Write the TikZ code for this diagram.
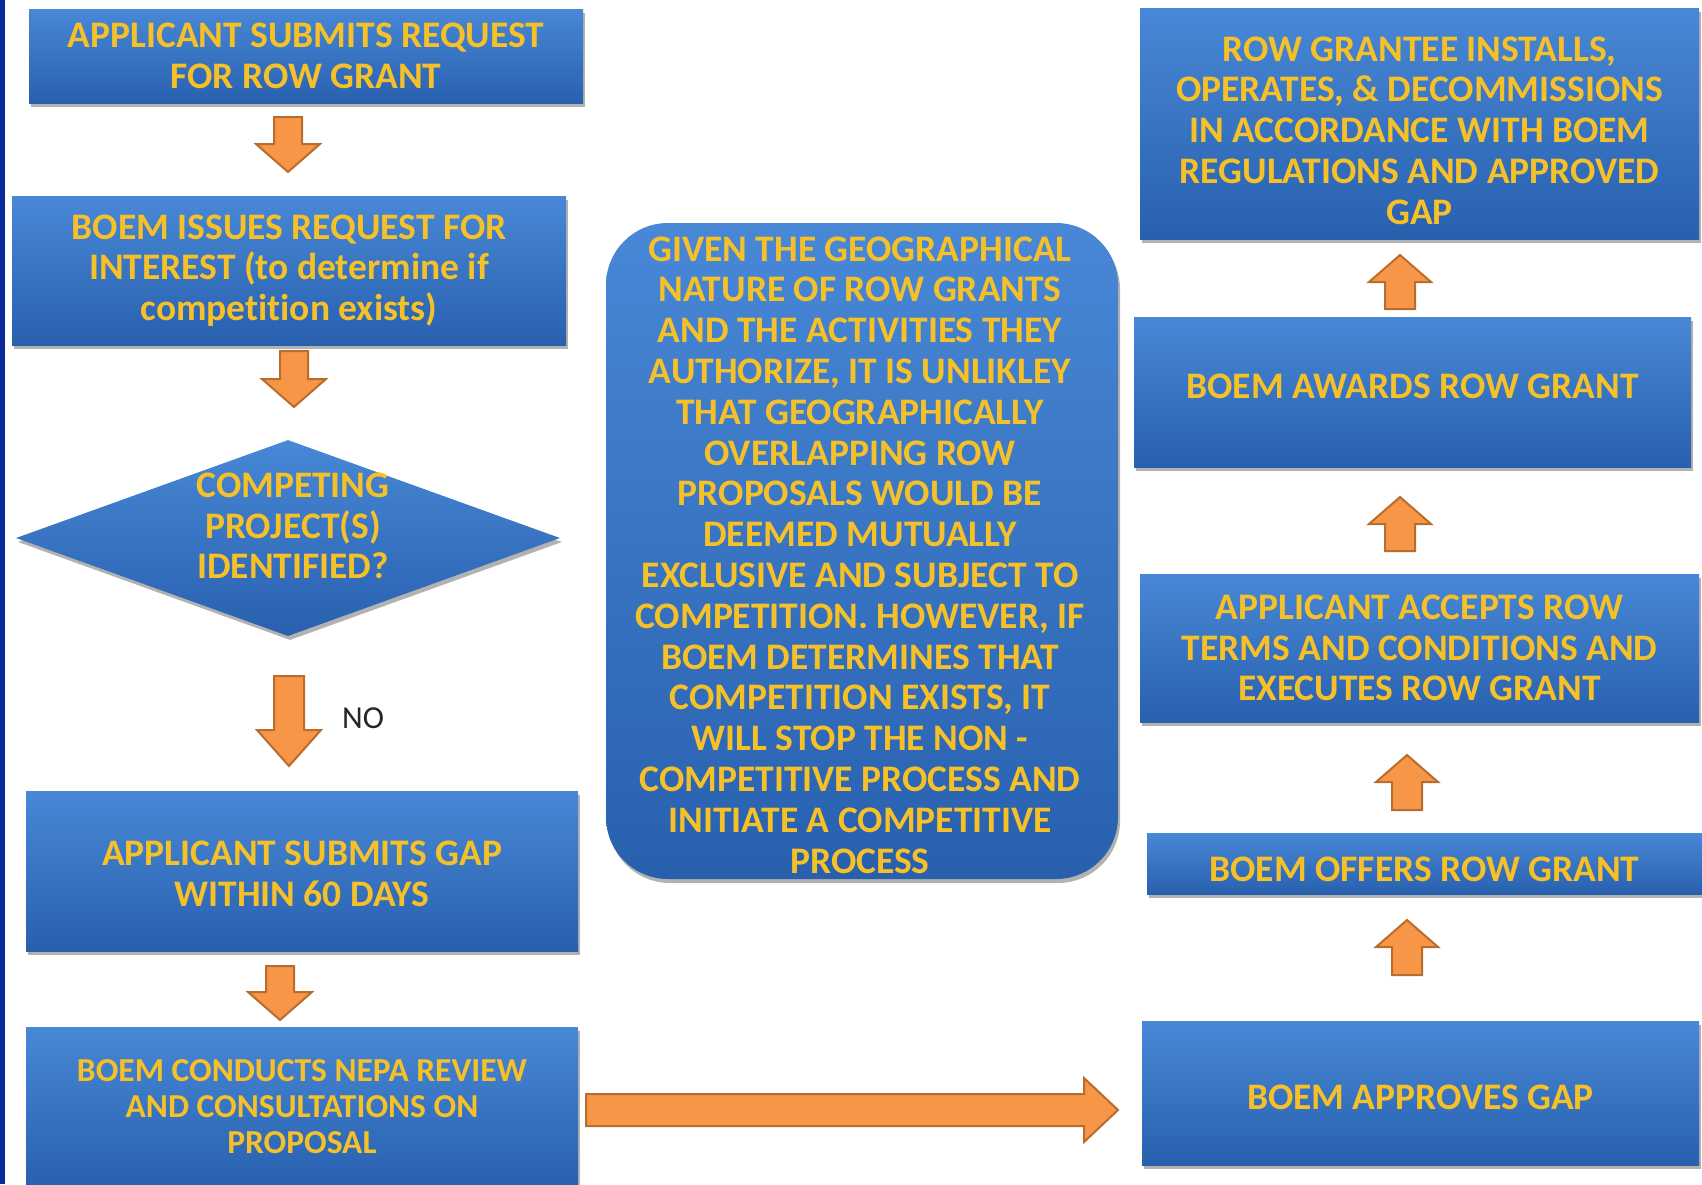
\documentclass[tikz,border=0pt]{standalone}
\usepackage{fontspec}
\setmainfont{Carlito}[Ligatures={NoCommon}]
\usetikzlibrary{shapes.geometric,shadows,calc}
\definecolor{boxtop}{RGB}{72,136,214}
\definecolor{boxbot}{RGB}{40,96,174}
\definecolor{gold}{RGB}{245,192,40}
\definecolor{arrfill}{RGB}{247,150,70}
\definecolor{arrdraw}{RGB}{184,109,46}
\definecolor{navy}{RGB}{10,40,150}
\newcommand\blockarrow[5]{%
  \coordinate (tmpH) at ($(#2)!#5!(#1)$);
  \draw[blockarr] ($(#1)!#3!90:(#2)$) -- ($(tmpH)!#3!-90:(#1)$) -- ($(tmpH)!#4!-90:(#1)$) -- (#2)
    -- ($(tmpH)!#4!90:(#1)$) -- ($(tmpH)!#3!90:(#1)$) -- ($(#1)!#3!-90:(#2)$) -- cycle;}
\begin{document}
\begin{tikzpicture}[x=1pt,y=-1pt,
  box/.style={rectangle, inner sep=0pt, top color=boxtop, bottom color=boxbot, draw=none,
    drop shadow={shadow xshift=2pt, shadow yshift=-4pt, opacity=0.3, fill=black},
    text=gold, font=\bfseries\fontsize{37.5}{40.8}\selectfont, align=center},
  dia/.style={diamond, inner sep=0pt, top color=boxtop, bottom color=boxbot, draw=none,
    drop shadow={shadow xshift=2pt, shadow yshift=-4pt, opacity=0.3, fill=black}},
  boxtext/.style={text=gold, font=\bfseries\fontsize{37.5}{40.8}\selectfont, align=center, inner sep=0pt},
  blockarr/.style={fill=arrfill, draw=arrdraw, line width=2pt, line join=miter},
  lbl/.style={font=\fontsize{32}{36}\selectfont, text=black!85, inner sep=0pt}]
\useasboundingbox (0,0) rectangle (1702,1184);
\fill[white] (0,0) rectangle (1702,1184);
\fill[navy] (0,0) rectangle (5,1184);

% left column
\node[box, minimum width=554pt, minimum height=94pt] (b1) at (306,56)
  {APPLICANT SUBMITS REQUEST\\FOR ROW GRANT};
\node[box, minimum width=554pt, minimum height=149pt] (b2) at (289,270.5)
  {BOEM ISSUES REQUEST FOR\\INTEREST (to determine if\\competition exists)};
\node[dia, minimum width=544pt, minimum height=196pt] (d) at (288,538) {};
\node[boxtext] (dtxt) at (293,526) {COMPETING\\PROJECT(S)\\IDENTIFIED?};
\node[box, minimum width=552pt, minimum height=160pt] (b4) at (302,871) {};
\node[boxtext] (b4t) at ($(b4.center)+(0,3)$) {APPLICANT SUBMITS GAP\\WITHIN 60 DAYS};
\node[box, minimum width=552pt, minimum height=160pt,
  font=\bfseries\fontsize{33.5}{36}\selectfont] (b5) at (302,1107)
  {BOEM CONDUCTS NEPA REVIEW\\AND CONSULTATIONS ON\\PROPOSAL};

% centre
\node[box, rounded corners=62pt, minimum width=512pt, minimum height=656pt] (cen) at (862,551) {};
\node[boxtext] (cent) at ($(cen.center)+(-2,4)$)
  {GIVEN THE GEOGRAPHICAL\\NATURE OF ROW GRANTS\\AND THE ACTIVITIES THEY\\AUTHORIZE, IT IS UNLIKLEY\\THAT GEOGRAPHICALLY\\OVERLAPPING ROW\\PROPOSALS WOULD BE\\DEEMED MUTUALLY\\EXCLUSIVE AND SUBJECT TO\\COMPETITION. HOWEVER, IF\\BOEM DETERMINES THAT\\COMPETITION EXISTS, IT\\WILL STOP THE NON -\\COMPETITIVE PROCESS AND\\INITIATE A COMPETITIVE\\PROCESS};

% right column
\node[box, minimum width=559pt, minimum height=231pt] (b10) at (1419.5,123.5) {};
\node[boxtext] (b10t) at ($(b10.center)+(0,7)$)
  {ROW GRANTEE INSTALLS,\\OPERATES, \& DECOMMISSIONS\\IN ACCORDANCE WITH BOEM\\REGULATIONS AND APPROVED\\GAP};
\node[box, minimum width=557pt, minimum height=150pt] (b9) at (1412.5,392) {};
\node[boxtext] (b9t) at ($(b9.center)+(0,-6)$) {BOEM AWARDS ROW GRANT};
\node[box, minimum width=559pt, minimum height=148pt] (b8) at (1419.5,648)
  {APPLICANT ACCEPTS ROW\\TERMS AND CONDITIONS AND\\EXECUTES ROW GRANT};
\node[box, minimum width=555pt, minimum height=61pt] (b7) at (1424.5,863.5) {};
\node[boxtext] (b7t) at ($(b7.center)+(0,6)$) {BOEM OFFERS ROW GRANT};
\node[box, minimum width=557pt, minimum height=144pt] (b6) at (1420.5,1093) {};
\node[boxtext] (b6t) at ($(b6.center)+(0,4)$) {BOEM APPROVES GAP};

% connector end points
\coordinate (a1s) at (288,117);  \coordinate (a1e) at (288,172);
\coordinate (a2s) at (294,351);  \coordinate (a2e) at (294,407);
\coordinate (a3s) at (289,676);  \coordinate (a3e) at (289,766);
\coordinate (a4s) at (280,966);  \coordinate (a4e) at (280,1020);
\coordinate (ahs) at (586,1110); \coordinate (ahe) at (1118,1110);
\coordinate (u1s) at (1407,975); \coordinate (u1e) at (1407,920);
\coordinate (u2s) at (1407,810); \coordinate (u2e) at (1407,755);
\coordinate (u3s) at (1400,551); \coordinate (u3e) at (1400,497);
\coordinate (u4s) at (1400,309); \coordinate (u4e) at (1400,255);

\blockarrow{a1s}{a1e}{14pt}{32pt}{28pt}
\blockarrow{a2s}{a2e}{14pt}{32pt}{28pt}
\blockarrow{a3s}{a3e}{15pt}{32pt}{36pt}
\blockarrow{a4s}{a4e}{14pt}{32pt}{28pt}
\blockarrow{ahs}{ahe}{16pt}{32pt}{34pt}
\blockarrow{u1s}{u1e}{15pt}{31pt}{27pt}
\blockarrow{u2s}{u2e}{15pt}{31pt}{27pt}
\blockarrow{u3s}{u3e}{15pt}{31pt}{27pt}
\blockarrow{u4s}{u4e}{15pt}{31pt}{27pt}

\node[lbl] (no) at (363,718) {NO};
\end{tikzpicture}
\end{document}
